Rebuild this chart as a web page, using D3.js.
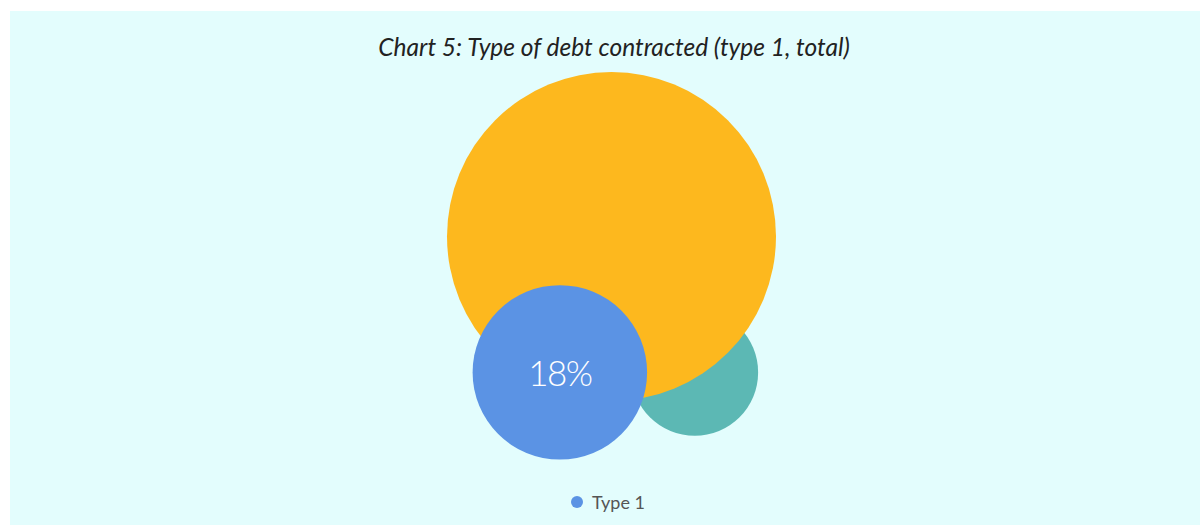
<!DOCTYPE html>
<html>
<head>
<meta charset="utf-8">
<script src="https://cdn.jsdelivr.net/npm/d3@7"></script>
<style>
  html, body { margin: 0; padding: 0; background: #ffffff; }
  svg { display: block; }
</style>
</head>
<body>
<svg id="chart" width="1200" height="526"></svg>
<script>
// Bubble series: share of debt by type, with position on a unit layout grid
// (listed in drawing order, back to front)
const seriesNames = ["Type 3", "Type 2", "Type 1"];
const seriesValues = [9.5, 64, 18];
const seriesX = [0.506, 0.0, -0.314];
const seriesY = [-0.826, 0.0, -0.826];
const seriesColors = ["#5cb8b4", "#fdb81e", "#5b93e4"];
const labelled = ["Type 1"];
const legendNames = ["Type 1"];
const titleText = "Chart 5: Type of debt contracted (type 1, total)";

const svg = d3.select("#chart");
const W = 1200, H = 526;

// background panel
svg.append("rect")
  .attr("x", 10).attr("y", 11)
  .attr("width", W - 10).attr("height", H - 12)
  .attr("fill", "#e3fdfd");

svg.append("text")
  .attr("x", 614).attr("y", 56)
  .attr("text-anchor", "middle")
  .attr("font-family", "Lato, 'Open Sans', sans-serif")
  .attr("font-style", "italic")
  .attr("font-size", 24.5)
  .attr("fill", "#222")
  .text(titleText);

// layout scales: unit grid -> pixels
const x = d3.scaleLinear().domain([-1, 1]).range([611.5 - 164.5, 611.5 + 164.5]);
const y = d3.scaleLinear().domain([-1, 1]).range([236.5 + 164.5, 236.5 - 164.5]);
const r = d3.scaleSqrt().domain([0, 64]).range([0, 164.5]);

const data = seriesNames.map((n, i) => ({
  name: n, value: seriesValues[i], cx: seriesX[i], cy: seriesY[i], color: seriesColors[i]
}));

const g = svg.append("g");
g.selectAll("circle")
  .data(data)
  .join("circle")
  .attr("cx", d => x(d.cx))
  .attr("cy", d => y(d.cy))
  .attr("r", d => r(d.value))
  .attr("fill", d => d.color);

g.selectAll("text.lbl")
  .data(data.filter(d => labelled.includes(d.name)))
  .join("text")
  .attr("class", "lbl")
  .attr("x", d => x(d.cx))
  .attr("y", d => y(d.cy) + 14)
  .attr("text-anchor", "middle")
  .attr("font-family", "Lato, sans-serif")
  .attr("font-weight", 300)
  .attr("font-size", 35)
  .attr("letter-spacing", -1.5)
  .attr("fill", "#ffffff")
  .text(d => Math.round(d.value) + "%");

// legend
const leg = svg.append("g").attr("transform", "translate(577,502)");
legendNames.forEach((n, i) => {
  const d = data.find(e => e.name === n);
  leg.append("circle").attr("cx", 0).attr("cy", 0).attr("r", 6).attr("fill", d.color);
  leg.append("text")
    .attr("x", 15).attr("y", 6.5)
    .attr("font-family", "Lato, sans-serif")
    .attr("font-size", 18)
    .attr("fill", "#555")
    .text(n);
});
</script>
</body>
</html>
